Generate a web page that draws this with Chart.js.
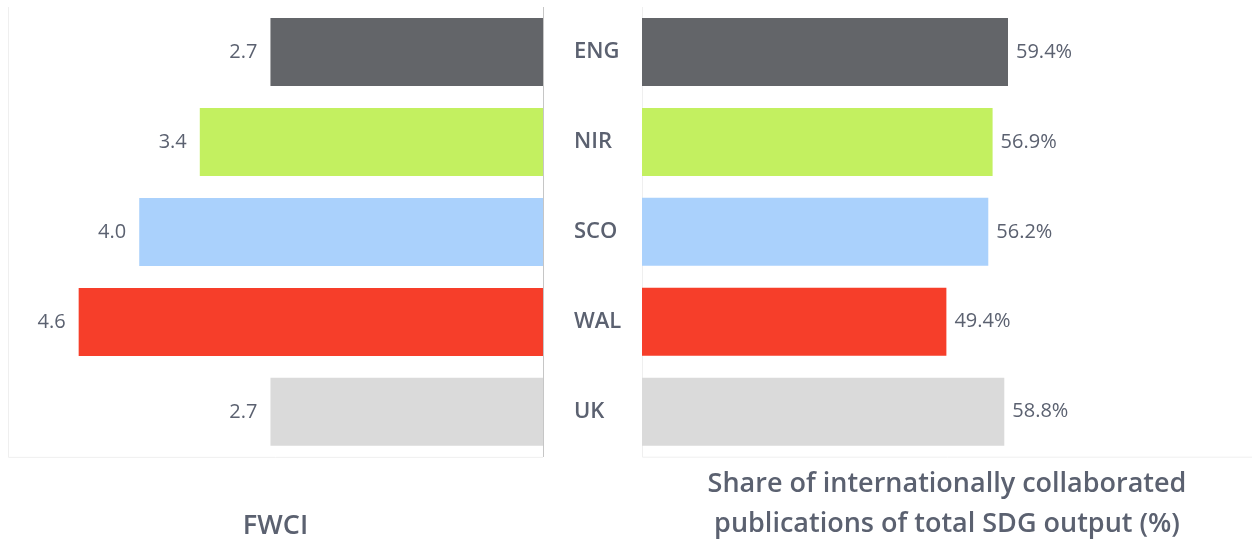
<!DOCTYPE html>
<html>
<head>
<meta charset="utf-8">
<script src="https://cdn.jsdelivr.net/npm/chart.js@4.4.0/dist/chart.umd.min.js"></script>
<style>
	body { margin: 0; background: #fff; }
	#wrap { position: relative; width: 1252px; height: 546px; overflow: hidden; }
	canvas { position: absolute; top: 0; }
	#fwci { left: 0; }
	#share { left: 574px; }
</style>
</head>
<body>
<div id="wrap">
	<canvas id="fwci" width="545" height="546"></canvas>
	<canvas id="share" width="678" height="546"></canvas>
</div>
<script>
var categorias = ['ENG', 'NIR', 'SCO', 'WAL', 'UK'];
var valoresFwci = [2.7, 3.4, 4.0, 4.6, 2.7];
var valoresShare = [59.4, 56.9, 56.2, 49.4, 58.8];
var colores = ['#636569', '#c3f060', '#aad1fc', '#f63e2a', '#dadada'];
var tituloFwci = 'FWCI';
var tituloShare = ['Share of internationally collaborated', 'publications of total SDG output (%)'];

var colorTexto = '#5b6170';
var fuente = '"Open Sans", Lato, sans-serif';

//etiquetas con el valor junto al final de cada barra
function pluginEtiquetas(lado, sufijo, decimales){
	return {
		id: 'etiquetas',
		afterDatasetsDraw: function(chart){
			var ctx = chart.ctx;
			var meta = chart.getDatasetMeta(0);
			var datos = chart.data.datasets[0].data;
			ctx.save();
			ctx.font = '20px ' + fuente;
			ctx.fillStyle = colorTexto;
			ctx.textBaseline = 'middle';
			meta.data.forEach(function(bar, i){
				var txt = datos[i].toFixed(decimales) + sufijo;
				if( lado === 'izq' ){
					ctx.textAlign = 'right';
					ctx.fillText(txt, bar.x - 13, bar.y);
				}else{
					ctx.textAlign = 'left';
					ctx.fillText(txt, bar.x + 8, bar.y);
				}
			});
			ctx.restore();
		}
	};
}

//borde gris claro a la izquierda y abajo del panel
var pluginMarco = {
	id: 'marco',
	beforeDraw: function(chart){
		var a = chart.chartArea;
		var ctx = chart.ctx;
		ctx.save();
		ctx.strokeStyle = '#efefef';
		ctx.lineWidth = 1;
		ctx.beginPath();
		ctx.moveTo(a.left + 0.5, a.top);
		ctx.lineTo(a.left + 0.5, a.bottom + 0.5);
		ctx.lineTo(a.right, a.bottom + 0.5);
		ctx.stroke();
		ctx.restore();
	}
};

var ctxFwci = document.querySelector('#fwci');
var chartFwci = new Chart(ctxFwci, {
	type: 'bar',
	data: {
		labels: categorias,
		datasets: [{
			data: valoresFwci,
			backgroundColor: colores,
			categoryPercentage: 1,
			barPercentage: 0.756
		}]
	},
	options: {
		indexAxis: 'y',
		responsive: false,
		animation: false,
		layout: { padding: { top: 7, left: 8, right: 2, bottom: 0 } },
		plugins: { legend: { display: false }, tooltip: { enabled: false } },
		scales: {
			x: {
				reverse: true,
				min: 0,
				max: 5.3,
				grid: { display: false, drawTicks: false },
				border: { display: false },
				ticks: { display: false },
				title: {
					display: true,
					text: tituloFwci,
					color: colorTexto,
					font: { family: fuente, size: 27, weight: '600', lineHeight: 1.45 },
					padding: { top: 50, bottom: 0 }
				}
			},
			y: {
				position: 'right',
				afterFit: function(scale){ scale.width = 0; },
				grid: { display: false, drawTicks: false },
				border: { display: true, color: '#c6c6c6' },
				ticks: { display: false }
			}
		}
	},
	plugins: [pluginMarco, pluginEtiquetas('izq', '', 1)]
});

var ctxShare = document.querySelector('#share');
var chartShare = new Chart(ctxShare, {
	type: 'bar',
	data: {
		labels: categorias,
		datasets: [{
			data: valoresShare,
			backgroundColor: colores,
			categoryPercentage: 1,
			barPercentage: 0.756
		}]
	},
	options: {
		indexAxis: 'y',
		responsive: false,
		animation: false,
		layout: { padding: { top: 7, left: 0, right: 0, bottom: 0 } },
		plugins: { legend: { display: false }, tooltip: { enabled: false } },
		scales: {
			x: {
				min: 0,
				max: 99,
				grid: { display: false, drawTicks: false },
				border: { display: false },
				ticks: { display: false },
				title: {
					display: true,
					text: tituloShare,
					color: colorTexto,
					font: { family: fuente, size: 27, weight: '600', lineHeight: 1.45 },
					padding: { top: 8.5, bottom: 2.5 }
				}
			},
			y: {
				position: 'left',
				afterFit: function(scale){
					scale.width = 68;
					scale.paddingTop = 0;
					scale.paddingBottom = 0;
				},
				grid: { display: false, drawTicks: false },
				border: { display: false },
				ticks: {
					crossAlign: 'far',
					color: colorTexto,
					font: { family: fuente, size: 22, weight: '600' }
				}
			}
		}
	},
	plugins: [pluginMarco, pluginEtiquetas('der', '%', 1)]
});
</script>
</body>
</html>
